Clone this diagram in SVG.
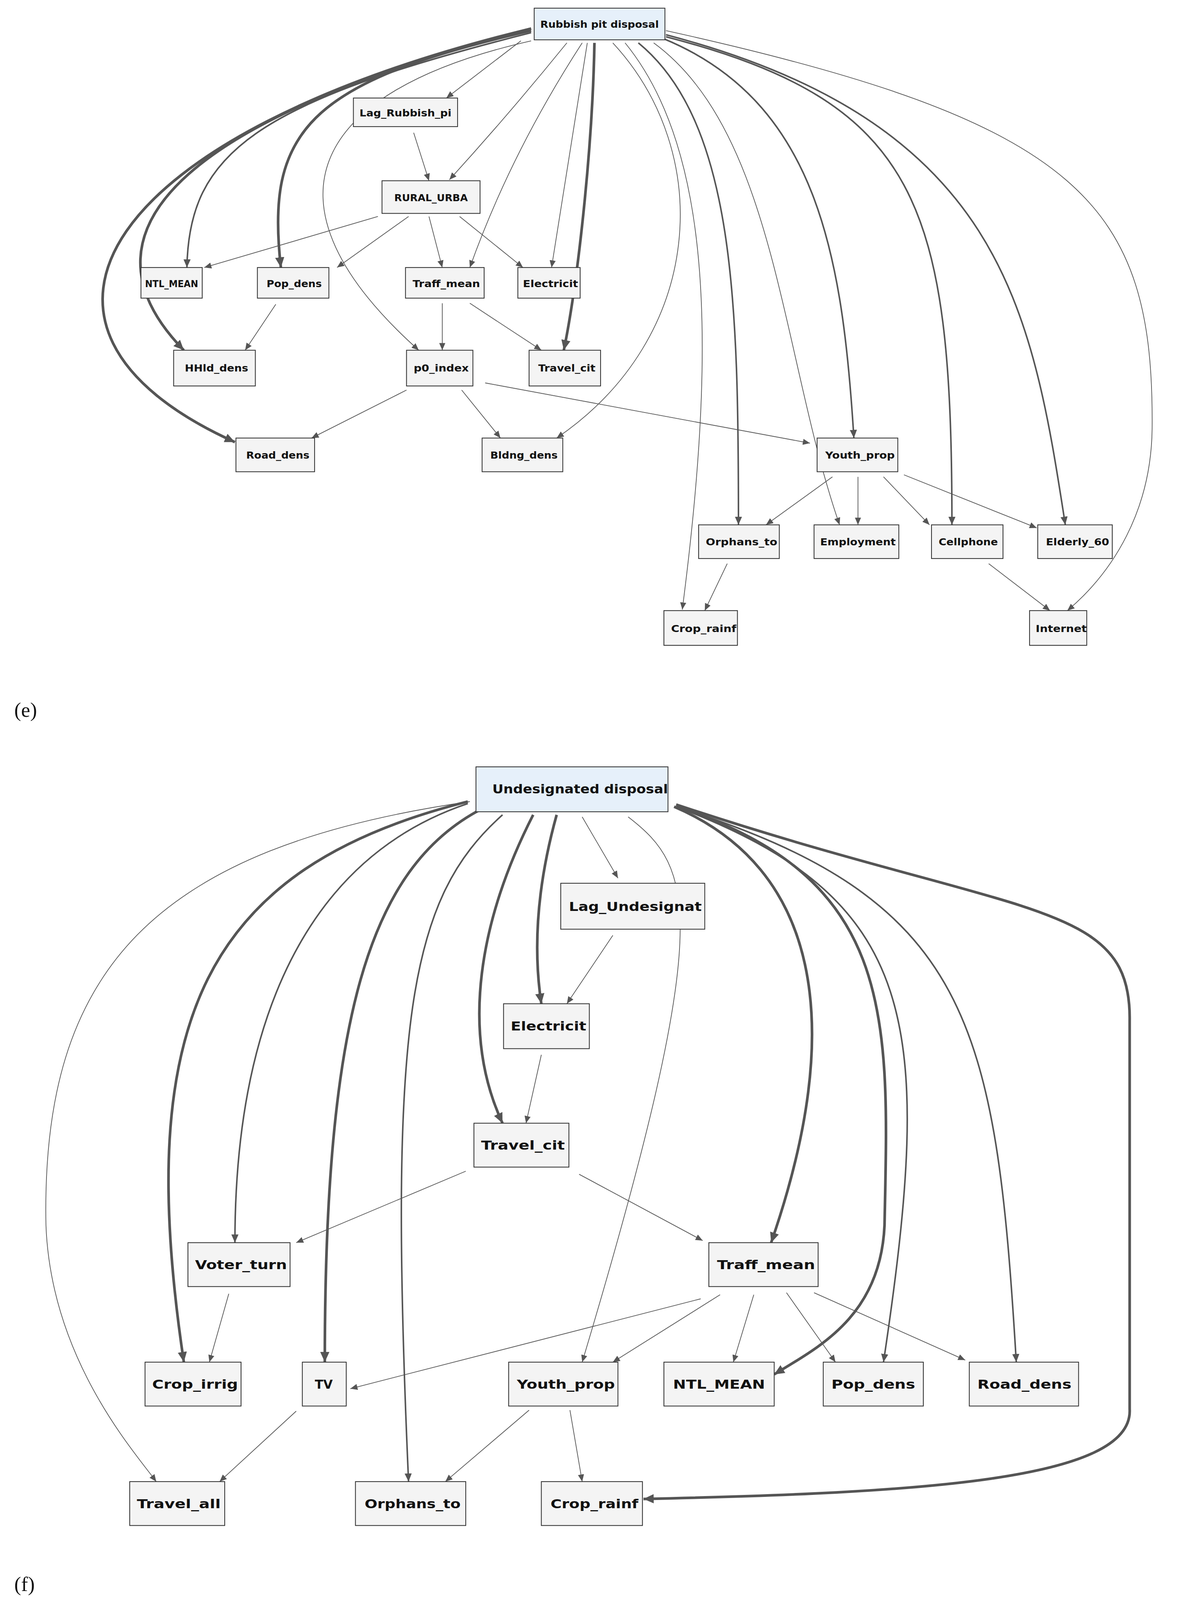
<svg xmlns="http://www.w3.org/2000/svg" width="3066" height="4233" viewBox="0 0 3066 4233">
<defs>
<style>
.n rect{fill:#f4f4f4;stroke:#333;stroke-width:0.8}
.t rect{fill:#e6f0fa;stroke:#333;stroke-width:0.8}
text{font-family:"DejaVu Sans","Liberation Sans",sans-serif;font-weight:bold;fill:#111}
.e text{font-size:9.5px}
.f text{font-size:12px}
.c path{fill:none;stroke:#555}
.w1{stroke-width:0.7;marker-end:url(#as)}
.w2{stroke-width:1.5;marker-end:url(#am)}
.w3{stroke-width:2.6;marker-end:url(#al)}
.cap{font-family:"Liberation Serif",serif;font-weight:normal;font-size:20px}
</style>
<marker id="as" markerUnits="userSpaceOnUse" markerWidth="8" markerHeight="8" viewBox="0 0 8 8" refX="7" refY="4" orient="auto"><path d="M0,1 L7,4 L0,7 z" fill="#555"/></marker>
<marker id="am" markerUnits="userSpaceOnUse" markerWidth="9" markerHeight="9" viewBox="0 0 9 9" refX="8" refY="4.5" orient="auto"><path d="M0,1 L8,4.5 L0,8 z" fill="#555"/></marker>
<marker id="al" markerUnits="userSpaceOnUse" markerWidth="11" markerHeight="11" viewBox="0 0 11 11" refX="10" refY="5.5" orient="auto"><path d="M0,1 L10,5.5 L0,10 z" fill="#555"/></marker>
</defs>
<rect width="3066" height="4233" fill="#fff"/>
<g transform="scale(2.614)">
<g class="c" id="connectors-e">
<path class="w1" d="M510,40 L437,96"/>
<path class="w1" d="M555,42 Q500,110 440,176"/>
<path class="w1" d="M570,42 Q500,150 460,262"/>
<path class="w1" d="M575,42 L540,262"/>
<path class="w3" d="M582,42 C580,150 565,280 552,343"/>
<path class="w1" d="M520,40 C300,90 250,200 410,343"/>
<path class="w1" d="M600,42 C700,150 690,330 545,429"/>
<path class="w1" d="M612,42 C700,150 700,350 668,597"/>
<path class="w2" d="M625,42 C720,120 723,300 723,514"/>
<path class="w1" d="M640,42 C760,130 765,350 822,514"/>
<path class="w2" d="M650,38 C800,100 825,250 836,429"/>
<path class="w2" d="M652,36 C900,100 932,200 932,514"/>
<path class="w2" d="M652,34 C980,120 1010,300 1043,514"/>
<path class="w1" d="M652,30 C1060,120 1130,200 1128,420 C1127,500 1090,560 1045,598"/>
<path class="w2" d="M520,32 C250,100 185,150 183,262"/>
<path class="w3" d="M520,30 C300,80 260,130 275,262"/>
<path class="w3" d="M520,28 C200,110 60,220 180,343"/>
<path class="w3" d="M520,28 C100,130 -20,320 230,433"/>
<path class="w1" d="M405,130 L420,177"/>
<path class="w1" d="M370,212 L200,262"/>
<path class="w1" d="M400,212 L330,262"/>
<path class="w1" d="M420,212 L433,262"/>
<path class="w1" d="M450,212 L512,262"/>
<path class="w1" d="M270,298 L240,343"/>
<path class="w1" d="M433,297 L433,343"/>
<path class="w1" d="M460,297 L530,343"/>
<path class="w1" d="M398,382 L305,429"/>
<path class="w1" d="M452,382 L490,429"/>
<path class="w1" d="M475,375 L793,434"/>
<path class="w1" d="M815,467 L750,514"/>
<path class="w1" d="M840,467 L840,514"/>
<path class="w1" d="M865,467 L910,514"/>
<path class="w1" d="M885,465 L1015,517"/>
<path class="w1" d="M712,552 L690,598"/>
<path class="w1" d="M968,552 L1028,598"/>
</g>
<g class="e">
<g id="e-rubbish" class="t"><rect x="523" y="8" width="128" height="31"/><text x="587" y="27" text-anchor="middle" textLength="116" lengthAdjust="spacingAndGlyphs">Rubbish pit disposal</text></g>
<g id="e-lag" class="n"><rect x="346" y="96" width="102" height="28"/><text x="397" y="114" text-anchor="middle" textLength="90" lengthAdjust="spacingAndGlyphs">Lag_Rubbish_pi</text></g>
<g id="e-rural" class="n"><rect x="374" y="177" width="96" height="32"/><text x="422" y="197" text-anchor="middle" textLength="72" lengthAdjust="spacingAndGlyphs">RURAL_URBA</text></g>
<g id="e-ntl" class="n"><rect x="138" y="262" width="60" height="30"/><text x="168" y="281" text-anchor="middle" textLength="52" lengthAdjust="spacingAndGlyphs">NTL_MEAN</text></g>
<g id="e-pop" class="n"><rect x="252" y="262" width="70" height="30"/><text x="288" y="281" text-anchor="middle" textLength="54" lengthAdjust="spacingAndGlyphs">Pop_dens</text></g>
<g id="e-traff" class="n"><rect x="397" y="262" width="77" height="30"/><text x="437" y="281" text-anchor="middle" textLength="66" lengthAdjust="spacingAndGlyphs">Traff_mean</text></g>
<g id="e-elec" class="n"><rect x="507" y="262" width="61" height="30"/><text x="539" y="281" text-anchor="middle" textLength="54" lengthAdjust="spacingAndGlyphs">Electricit</text></g>
<g id="e-hhld" class="n"><rect x="170" y="343" width="80" height="35"/><text x="212" y="364" text-anchor="middle" textLength="62" lengthAdjust="spacingAndGlyphs">HHld_dens</text></g>
<g id="e-p0" class="n"><rect x="398" y="343" width="65" height="35"/><text x="432" y="364" text-anchor="middle" textLength="54" lengthAdjust="spacingAndGlyphs">p0_index</text></g>
<g id="e-travelcit" class="n"><rect x="518" y="343" width="70" height="35"/><text x="555" y="364" text-anchor="middle" textLength="56" lengthAdjust="spacingAndGlyphs">Travel_cit</text></g>
<g id="e-road" class="n"><rect x="231" y="429" width="77" height="33"/><text x="272" y="449" text-anchor="middle" textLength="62" lengthAdjust="spacingAndGlyphs">Road_dens</text></g>
<g id="e-bldng" class="n"><rect x="472" y="429" width="79" height="33"/><text x="513" y="449" text-anchor="middle" textLength="66" lengthAdjust="spacingAndGlyphs">Bldng_dens</text></g>
<g id="e-youth" class="n"><rect x="800" y="429" width="79" height="33"/><text x="842" y="449" text-anchor="middle" textLength="68" lengthAdjust="spacingAndGlyphs">Youth_prop</text></g>
<g id="e-orphans" class="n"><rect x="684" y="514" width="79" height="33"/><text x="726" y="534" text-anchor="middle" textLength="70" lengthAdjust="spacingAndGlyphs">Orphans_to</text></g>
<g id="e-employ" class="n"><rect x="797" y="514" width="83" height="33"/><text x="840" y="534" text-anchor="middle" textLength="74" lengthAdjust="spacingAndGlyphs">Employment</text></g>
<g id="e-cell" class="n"><rect x="912" y="514" width="70" height="33"/><text x="948" y="534" text-anchor="middle" textLength="58" lengthAdjust="spacingAndGlyphs">Cellphone</text></g>
<g id="e-elderly" class="n"><rect x="1016" y="514" width="73" height="33"/><text x="1055" y="534" text-anchor="middle" textLength="62" lengthAdjust="spacingAndGlyphs">Elderly_60</text></g>
<g id="e-croprain" class="n"><rect x="650" y="598" width="72" height="34"/><text x="689" y="619" text-anchor="middle" textLength="64" lengthAdjust="spacingAndGlyphs">Crop_rainf</text></g>
<g id="e-internet" class="n"><rect x="1008" y="598" width="56" height="34"/><text x="1039" y="619" text-anchor="middle" textLength="50" lengthAdjust="spacingAndGlyphs">Internet</text></g>
</g>
<text class="cap" x="14" y="702">(e)</text>

<g class="c" id="connectors-f">
<path class="w3" d="M458,785 C200,850 130,1000 180,1334"/>
<path class="w2" d="M458,787 C300,840 230,1000 230,1217"/>
<path class="w3" d="M472,792 C360,850 318,1000 318,1334"/>
<path class="w2" d="M492,798 C400,880 380,1000 400,1451"/>
<path class="w3" d="M522,798 C470,900 450,1010 492,1100"/>
<path class="w3" d="M545,798 C525,870 522,930 530,983"/>
<path class="w1" d="M570,800 L605,860"/>
<path class="w1" d="M615,800 C680,850 700,900 570,1334"/>
<path class="w3" d="M660,790 C800,850 830,1000 755,1217"/>
<path class="w3" d="M662,790 C880,860 870,1000 866,1200 C862,1290 800,1320 758,1346"/>
<path class="w2" d="M662,790 C900,880 915,1000 865,1334"/>
<path class="w2" d="M662,790 C950,880 975,1000 995,1334"/>
<path class="w3" d="M662,788 C1000,900 1108,880 1106,1000 L1106,1380 C1110,1450 900,1462 630,1468"/>
<path class="w1" d="M460,785 C150,830 40,950 45,1200 C50,1330 130,1420 153,1451"/>
<path class="w1" d="M600,916 L555,983"/>
<path class="w1" d="M530,1033 L515,1100"/>
<path class="w1" d="M456,1147 L290,1217"/>
<path class="w1" d="M567,1150 L688,1215"/>
<path class="w1" d="M224,1267 L205,1334"/>
<path class="w1" d="M686,1272 L343,1360"/>
<path class="w1" d="M705,1268 L600,1334"/>
<path class="w1" d="M738,1268 L718,1334"/>
<path class="w1" d="M770,1266 L818,1334"/>
<path class="w1" d="M797,1266 L945,1332"/>
<path class="w1" d="M290,1382 L215,1451"/>
<path class="w1" d="M518,1381 L436,1451"/>
<path class="w1" d="M558,1381 L570,1451"/>
</g>
<g class="f">
<g id="f-undes" class="t"><rect x="466" y="751" width="188" height="44"/><text x="568" y="777" text-anchor="middle" textLength="172" lengthAdjust="spacingAndGlyphs">Undesignated disposal</text></g>
<g id="f-lag" class="n"><rect x="549" y="865" width="141" height="45"/><text x="622" y="892" text-anchor="middle" textLength="130" lengthAdjust="spacingAndGlyphs">Lag_Undesignat</text></g>
<g id="f-elec" class="n"><rect x="493" y="983" width="84" height="44"/><text x="537" y="1009" text-anchor="middle" textLength="74" lengthAdjust="spacingAndGlyphs">Electricit</text></g>
<g id="f-travelcit" class="n"><rect x="464" y="1100" width="93" height="43"/><text x="512" y="1126" text-anchor="middle" textLength="82" lengthAdjust="spacingAndGlyphs">Travel_cit</text></g>
<g id="f-voter" class="n"><rect x="184" y="1217" width="100" height="43"/><text x="236" y="1243" text-anchor="middle" textLength="90" lengthAdjust="spacingAndGlyphs">Voter_turn</text></g>
<g id="f-traff" class="n"><rect x="694" y="1217" width="107" height="43"/><text x="750" y="1243" text-anchor="middle" textLength="96" lengthAdjust="spacingAndGlyphs">Traff_mean</text></g>
<g id="f-cropirrig" class="n"><rect x="142" y="1334" width="94" height="43"/><text x="191" y="1360" text-anchor="middle" textLength="84" lengthAdjust="spacingAndGlyphs">Crop_irrig</text></g>
<g id="f-tv" class="n"><rect x="296" y="1334" width="43" height="43"/><text x="317" y="1360" text-anchor="middle">TV</text></g>
<g id="f-youth" class="n"><rect x="498" y="1334" width="107" height="43"/><text x="554" y="1360" text-anchor="middle" textLength="96" lengthAdjust="spacingAndGlyphs">Youth_prop</text></g>
<g id="f-ntl" class="n"><rect x="650" y="1334" width="108" height="43"/><text x="704" y="1360" text-anchor="middle" textLength="90" lengthAdjust="spacingAndGlyphs">NTL_MEAN</text></g>
<g id="f-pop" class="n"><rect x="806" y="1334" width="98" height="43"/><text x="855" y="1360" text-anchor="middle" textLength="82" lengthAdjust="spacingAndGlyphs">Pop_dens</text></g>
<g id="f-road" class="n"><rect x="949" y="1334" width="107" height="43"/><text x="1003" y="1360" text-anchor="middle" textLength="92" lengthAdjust="spacingAndGlyphs">Road_dens</text></g>
<g id="f-travelall" class="n"><rect x="127" y="1451" width="93" height="43"/><text x="175" y="1477" text-anchor="middle" textLength="82" lengthAdjust="spacingAndGlyphs">Travel_all</text></g>
<g id="f-orphans" class="n"><rect x="348" y="1451" width="108" height="43"/><text x="404" y="1477" text-anchor="middle" textLength="94" lengthAdjust="spacingAndGlyphs">Orphans_to</text></g>
<g id="f-croprain" class="n"><rect x="530" y="1451" width="99" height="43"/><text x="582" y="1477" text-anchor="middle" textLength="86" lengthAdjust="spacingAndGlyphs">Crop_rainf</text></g>
</g>
<text class="cap" x="14" y="1558">(f)</text>
</g>
</svg>
